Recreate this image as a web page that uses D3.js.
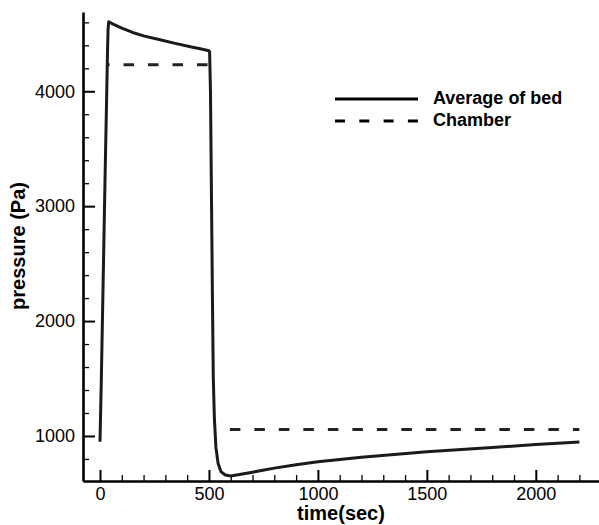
<!DOCTYPE html>
<html>
<head>
<meta charset="utf-8">
<script src="https://cdn.jsdelivr.net/npm/d3@7"></script>
<style>
  body { margin: 0; background: #fff; }
  svg { display: block; font-family: "Liberation Sans", Arial, sans-serif; }
</style>
</head>
<body>
<script>
var width = 599,
    height = 525;

// average pressure of the bed
var bedTime = [0, 6, 15, 23, 30, 34, 37, 40, 60, 100, 150, 200, 275, 350, 420, 460, 500,
    503, 507, 512, 516, 520, 525, 532, 542, 555, 575, 600, 700, 800, 900, 1000, 1200, 1500, 1800, 2000, 2200];
var bedPressure = [950, 1480, 2400, 3225, 3900, 4300, 4540, 4605, 4585, 4550, 4512, 4482, 4448, 4415, 4385, 4370, 4352,
    4345, 4000, 3000, 2200, 1500, 1150, 900, 760, 690, 660, 652, 685, 720, 750, 775, 815, 862, 900, 925, 948];

// chamber pressure (two constant stages)
var chamberTime = [[30, 500], [596, 2200]];
var chamberPressure = [[4230, 4230], [1056, 1056]];

var xMajor = [0, 500, 1000, 1500, 2000];
var xMinor = d3.range(100, 2300, 100).filter(function (d) { return d % 500 != 0; });
var yMajor = [1000, 2000, 3000, 4000];
var yMinor = d3.range(800, 4700, 200).filter(function (d) { return d % 1000 != 0; });

var legendNames = ['Average of bed', 'Chamber'];

var svg = d3.select('body').append('svg')
    .attr('width', width)
    .attr('height', height);

var x = d3.scaleLinear().domain([-78, 2290]).range([83, 599]);
var y = d3.scaleLinear().domain([608, 4690]).range([481, 12]);

// minor ticks
svg.append('g')
    .attr('transform', 'translate(0,481)')
    .call(d3.axisBottom(x).tickValues(xMinor).tickSize(-6).tickFormat(''))
    .call(function (g) { g.select('.domain').remove(); })
    .selectAll('line').attr('stroke-width', 1.3);

svg.append('g')
    .attr('transform', 'translate(83,0)')
    .call(d3.axisLeft(y).tickValues(yMinor).tickSize(-6).tickFormat(''))
    .call(function (g) { g.select('.domain').remove(); })
    .selectAll('line').attr('stroke-width', 1.3);

// major ticks
var xAxis = svg.append('g')
    .attr('transform', 'translate(0,481)')
    .call(d3.axisBottom(x).tickValues(xMajor).tickFormat(d3.format('d'))
        .tickSizeInner(-11).tickSizeOuter(0).tickPadding(6));

var yAxis = svg.append('g')
    .attr('transform', 'translate(83,0)')
    .call(d3.axisLeft(y).tickValues(yMajor).tickFormat(d3.format('d'))
        .tickSizeInner(-12).tickSizeOuter(0).tickPadding(8));

[xAxis, yAxis].forEach(function (g) {
    g.select('.domain').attr('stroke-width', 2.6);
    g.selectAll('.tick line').attr('stroke-width', 2);
    g.selectAll('text')
        .attr('font-family', '"Liberation Sans", Arial, sans-serif')
        .attr('font-size', 18)
        .attr('fill', '#000');
});

// axis titles
svg.append('text')
    .attr('x', 341)
    .attr('y', 520)
    .attr('text-anchor', 'middle')
    .attr('font-size', 20)
    .attr('font-weight', 'bold')
    .text('time(sec)');

svg.append('text')
    .attr('transform', 'translate(25,246) rotate(-90)')
    .attr('text-anchor', 'middle')
    .attr('font-size', 20)
    .attr('font-weight', 'bold')
    .text('pressure (Pa)');

var line = d3.line()
    .x(function (d) { return x(d[0]); })
    .y(function (d) { return y(d[1]); });

// chamber, dashed
for (var i = 0; i < chamberTime.length; i++) {
    var pts = d3.zip(chamberTime[i], chamberPressure[i]);
    svg.append('path')
        .attr('d', line(pts))
        .attr('fill', 'none')
        .attr('stroke', '#222')
        .attr('stroke-width', 3)
        .attr('stroke-dasharray', '10.5,14')
        .attr('stroke-dashoffset', i == 0 ? 7.5 : 0);
}

// bed, solid
svg.append('path')
    .attr('d', line(d3.zip(bedTime, bedPressure)))
    .attr('fill', 'none')
    .attr('stroke', '#1a1a1a')
    .attr('stroke-width', 3)
    .attr('stroke-linejoin', 'round');

// legend
var legend = svg.append('g');
legendNames.forEach(function (name, k) {
    var ly = 99 + k * 22;
    legend.append('line')
        .attr('x1', 335).attr('x2', 418)
        .attr('y1', ly).attr('y2', ly)
        .attr('stroke', '#000')
        .attr('stroke-width', 3)
        .attr('stroke-dasharray', k == 1 ? '10,14.3' : null);
    legend.append('text')
        .attr('x', 433)
        .attr('y', ly + 4.5)
        .attr('font-size', 18)
        .attr('font-weight', 'bold')
        .text(name);
});
</script>
</body>
</html>
